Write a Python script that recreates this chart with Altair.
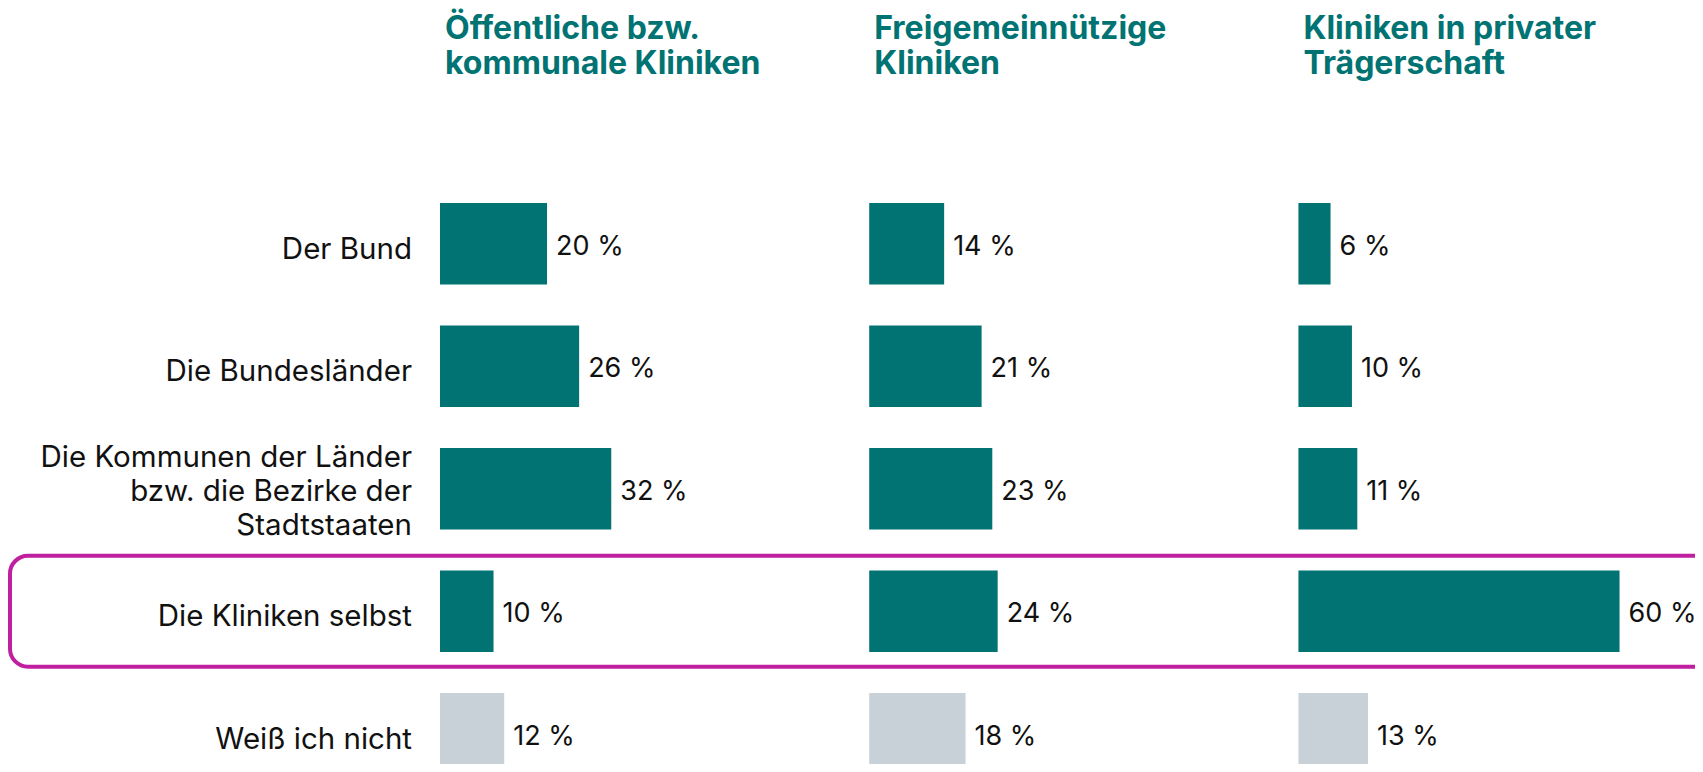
import altair as alt
import pandas as pd

categories = [
    "Der Bund",
    "Die Bundesländer",
    "Die Kommunen der Länder\nbzw. die Bezirke der\nStadtstaaten",
    "Die Kliniken selbst",
    "Weiß ich nicht",
]
groups = [
    "Öffentliche bzw.\nkommunale Kliniken",
    "Freigemeinnützige\nKliniken",
    "Kliniken in privater\nTrägerschaft",
]
values_oeffentlich = [20, 26, 32, 10, 12]
values_frei = [14, 21, 23, 24, 18]
values_privat = [6, 10, 11, 60, 13]
highlight = ["Die Kliniken selbst"]

TEAL = "#007372"
GREY = "#C8D1D8"
MAGENTA = "#C01FA0"
FONT = "Inter"
LABEL_LH = 34

rows = []
for gi, vals in enumerate([values_oeffentlich, values_frei, values_privat]):
    for cat, v in zip(categories, vals):
        rows.append({"group": groups[gi], "gi": gi, "category": cat, "value": v,
                     "kind": "unknown" if cat == "Weiß ich nicht" else "known"})
df = pd.DataFrame(rows)
df_groups = pd.DataFrame({"group": groups, "gi": list(range(len(groups)))})
df_cats = pd.DataFrame({"category": categories})
df_hl = pd.DataFrame({"category": highlight})

GROUP_SPAN = 80.2
xscale = alt.Scale(domain=[0, 234.5], nice=False, zero=False)
yscale = alt.Scale(domain=categories, range=[0, 612.3], paddingInner=0.3344, paddingOuter=0.1672)

base = alt.Chart(df).transform_calculate(
    x0=f"datum.gi * {GROUP_SPAN}",
    x1=f"datum.gi * {GROUP_SPAN} + datum.value",
    label="datum.value + ' %'",
)

bars = base.mark_bar().encode(
    x=alt.X("x0:Q", scale=xscale, axis=None),
    x2="x1:Q",
    y=alt.Y("category:N", scale=yscale, axis=None, sort=categories),
    color=alt.Color("kind:N", scale=alt.Scale(domain=["known", "unknown"], range=[TEAL, GREY]), legend=None),
)

values = base.mark_text(align="left", baseline="middle", dx=9, dy=3, fontSize=27, font=FONT, color="#111111").encode(
    x=alt.X("x1:Q", scale=xscale, axis=None),
    y=alt.Y("category:N", scale=yscale, axis=None, sort=categories),
    text="label:N",
)

single_labels = alt.Chart(df_cats).transform_filter(
    "indexof(datum.category, '\\n') < 0"
).mark_text(
    align="right", baseline="middle", dy=6, fontSize=29.5, font=FONT, color="#111111",
).encode(
    x=alt.value(-28),
    y=alt.Y("category:N", scale=yscale, axis=None, sort=categories),
    text="category:N",
)

multi_labels = alt.Chart(df_cats).transform_filter(
    "indexof(datum.category, '\\n') >= 0"
).mark_text(
    align="right", baseline="middle", fontSize=29.5, font=FONT, color="#111111",
    lineBreak="\n", lineHeight=LABEL_LH, dy=-31,
).encode(
    x=alt.value(-28),
    y=alt.Y("category:N", scale=yscale, axis=None, sort=categories),
    text="category:N",
)

headers = alt.Chart(df_groups).transform_calculate(
    x0=f"datum.gi * {GROUP_SPAN}"
).mark_text(
    align="left", baseline="alphabetic", fontSize=32, fontWeight="bold", font=FONT, color=TEAL,
    lineBreak="\n", lineHeight=35, dx=5,
).encode(
    x=alt.X("x0:Q", scale=xscale, axis=None),
    y=alt.value(39 - 182.6),
    text="group:N",
)

hl = alt.Chart(df_hl).mark_bar(
    height=111, cornerRadius=18, fillOpacity=0, stroke=MAGENTA, strokeWidth=4,
).encode(
    x=alt.value(-430),
    x2=alt.value(1300),
    y=alt.Y("category:N", scale=yscale, axis=None, sort=categories),
)

chart = alt.layer(bars, values, single_labels, multi_labels, headers, hl).properties(
    width=1255,
    height=581.4,
    autosize=alt.AutoSizeParams(type="none"),
    padding={"left": 432, "top": 174.6, "right": 0, "bottom": 0},
).configure_view(stroke=None)

chart.save("out.html", embed_options={"renderer": "svg", "actions": False})
